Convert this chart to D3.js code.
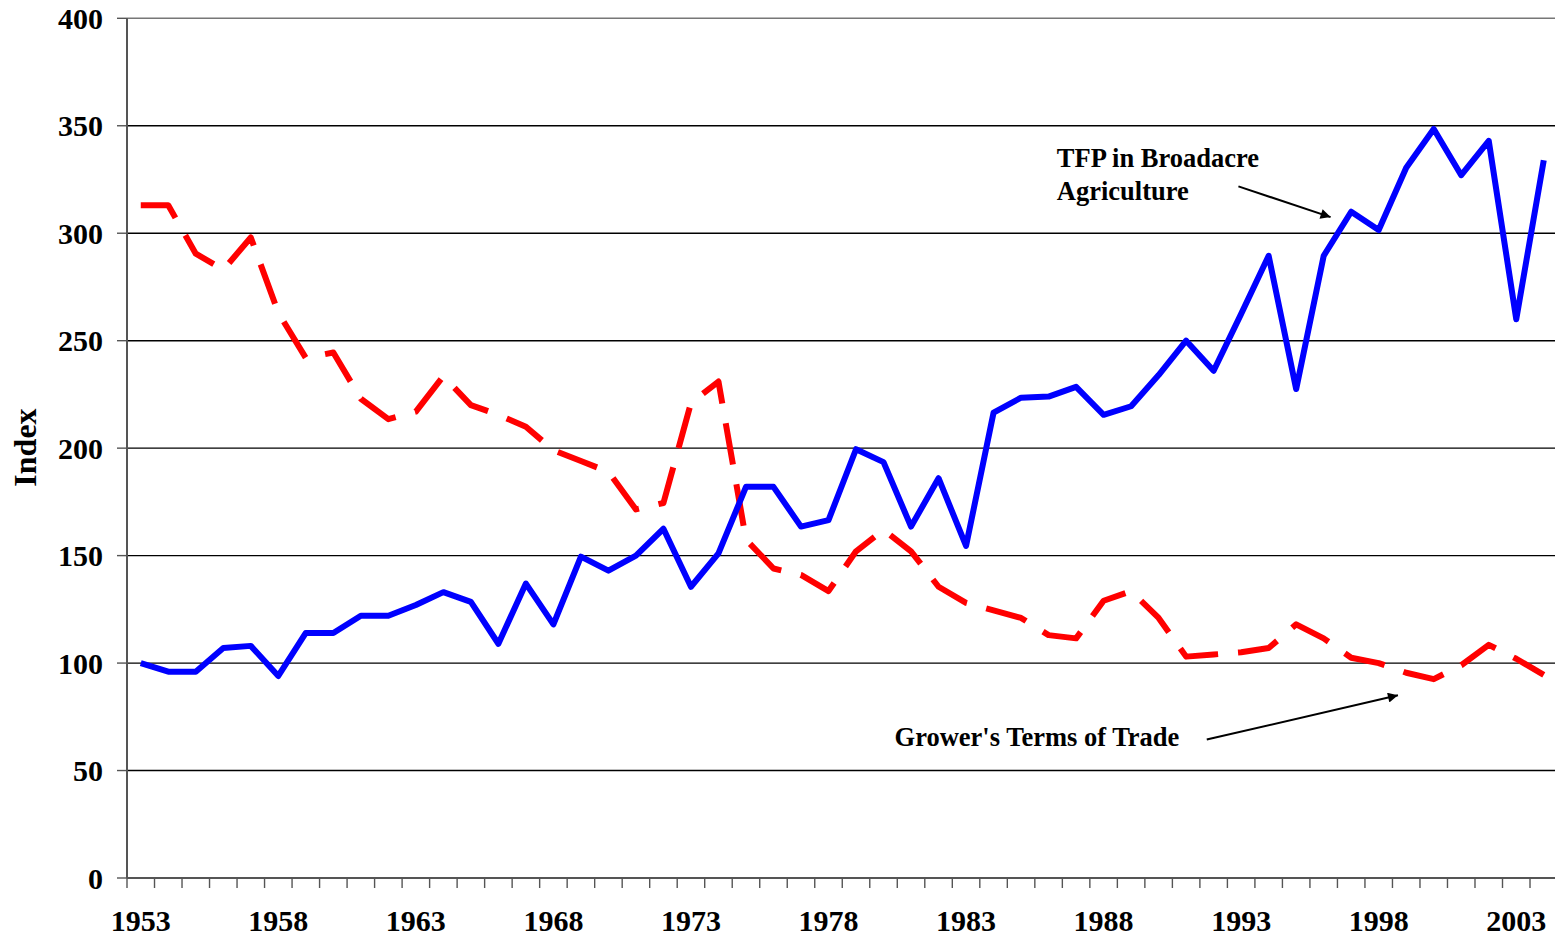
<!DOCTYPE html>
<html>
<head>
<meta charset="utf-8">
<script src="https://cdn.jsdelivr.net/npm/d3@7"></script>
<style>
  body { margin: 0; background: #fff; }
  text { font-family: "Liberation Serif", "Times New Roman", serif; font-weight: bold; fill: #000; }
</style>
</head>
<body>
<svg width="1555" height="938"></svg>
<script>
var years = d3.range(1953, 2005);

var tfp = [100, 96, 96, 107, 108, 94, 114, 114, 122, 122,
  127, 133, 128.5, 109, 137, 118, 149.5, 143, 150, 162.5,
  135.5, 151, 182, 182, 163.5, 166.5, 199.5, 193.5, 163.5, 186,
  154.5, 216.5, 223.5, 224, 228.5, 215.5, 219.5, 234, 250, 236,
  262.5, 289.5, 227.5, 289.5, 310, 301.5, 330.5, 348.5, 327, 343,
  260, 334];

var termsOfTrade = [313, 313, 290.5, 283, 298, 263, 242, 244.5, 223, 213.5,
  217, 233.5, 220, 215.5, 210, 199, 194, 189, 171.5, 174.5,
  221, 231, 157.5, 144, 141, 133.5, 152, 162, 152, 135.5,
  128, 124.5, 121, 113, 111.5, 129, 133.5, 121, 103, 104,
  105, 107, 118, 111.5, 102.5, 100, 95.5, 92.5, 99, 108.5,
  102, 94.5];

var yTicks = [0, 50, 100, 150, 200, 250, 300, 350, 400];
var yearLabels = [1953, 1958, 1963, 1968, 1973, 1978, 1983, 1988, 1993, 1998, 2003];

// annotations in data units (year, index)
var tfpNote = { lines: ["TFP in Broadacre", "Agriculture"], year: 1986.3, value: 331,
  from: [1992.9, 321.8], to: [1996.25, 307.5] };
var totNote = { lines: ["Grower's Terms of Trade"], year: 1980.4, value: 61.5,
  from: [1991.75, 64.4], to: [1998.7, 85] };

var svg = d3.select("svg"),
  plot = { left: 127, bottom: 878, top: 18.3, step: 27.51 };

var x = d3.scaleBand().domain(years)
  .range([plot.left, plot.left + plot.step * years.length]).padding(0);
var y = d3.scaleLinear().domain([0, 400]).range([plot.bottom, plot.top]);

// fractional year -> pixel
function xf(yr) {
  return plot.left + (yr - 1953 + 0.5) * plot.step;
}

svg.append("defs").append("marker")
  .attr("id", "arrow")
  .attr("viewBox", "0 0 10 10")
  .attr("refX", 10).attr("refY", 5)
  .attr("markerWidth", 7).attr("markerHeight", 5)
  .attr("markerUnits", "strokeWidth")
  .attr("orient", "auto")
  .append("path")
  .attr("d", "M0,0L10,5L0,10Z")
  .attr("fill", "#000");

// gridlines
svg.selectAll("line.grid")
  .data(yTicks.filter(d => d > 0))
  .enter()
  .append("line")
  .attr("class", "grid")
  .attr("x1", plot.left)
  .attr("x2", 1555)
  .attr("y1", d => y(d))
  .attr("y2", d => y(d))
  .attr("stroke", d => (d === 400 ? "#777" : "#000"))
  .attr("stroke-width", 1.4);

// y axis
var yAxis = svg.append("g").attr("class", "axis_y");
yAxis.append("line")
  .attr("x1", plot.left).attr("x2", plot.left)
  .attr("y1", y(400)).attr("y2", y(0))
  .attr("stroke", "#555").attr("stroke-width", 2);
yAxis.selectAll("line.tick")
  .data(yTicks)
  .enter()
  .append("line")
  .attr("class", "tick")
  .attr("x1", plot.left - 10).attr("x2", plot.left)
  .attr("y1", d => y(d)).attr("y2", d => y(d))
  .attr("stroke", "#555").attr("stroke-width", 1.4);
yAxis.selectAll("text")
  .data(yTicks)
  .enter()
  .append("text")
  .attr("x", 103)
  .attr("y", d => y(d))
  .attr("dy", "0.35em")
  .attr("text-anchor", "end")
  .style("font-size", "30px")
  .text(d => d);

// x axis
var xAxis = svg.append("g").attr("class", "axis_x");
xAxis.append("line")
  .attr("x1", plot.left).attr("x2", 1555)
  .attr("y1", plot.bottom).attr("y2", plot.bottom)
  .attr("stroke", "#555").attr("stroke-width", 2);
xAxis.selectAll("line.tick")
  .data(years)
  .enter()
  .append("line")
  .attr("class", "tick")
  .attr("x1", d => x(d)).attr("x2", d => x(d))
  .attr("y1", plot.bottom).attr("y2", plot.bottom + 10)
  .attr("stroke", "#555").attr("stroke-width", 1.4);
xAxis.selectAll("text")
  .data(yearLabels)
  .enter()
  .append("text")
  .attr("x", d => x(d) + x.bandwidth() / 2)
  .attr("y", 931)
  .attr("text-anchor", "middle")
  .style("font-size", "30px")
  .text(d => d);

svg.append("text")
  .attr("transform", "translate(36,447.5)rotate(-90)")
  .attr("text-anchor", "middle")
  .style("font-size", "32px")
  .text("Index");

var line = d3.line()
  .x((d, i) => x(years[i]) + x.bandwidth() / 2)
  .y(d => y(d));

svg.append("path")
  .datum(termsOfTrade)
  .attr("d", line)
  .attr("fill", "none")
  .attr("stroke", "#ff0000")
  .attr("stroke-width", 6)
  .attr("stroke-dasharray", "42,20")
  .attr("stroke-linejoin", "round");

svg.append("path")
  .datum(tfp)
  .attr("d", line)
  .attr("fill", "none")
  .attr("stroke", "#0000ff")
  .attr("stroke-width", 6)
  .attr("stroke-linejoin", "round");

// annotations
[tfpNote, totNote].forEach(function(n) {
  var t = svg.append("text")
    .attr("x", xf(n.year))
    .attr("y", y(n.value))
    .style("font-size", "26.5px");
  t.selectAll("tspan")
    .data(n.lines)
    .enter()
    .append("tspan")
    .attr("x", xf(n.year))
    .attr("dy", (d, i) => (i === 0 ? 0 : 33))
    .text(d => d);
  svg.append("line")
    .attr("x1", xf(n.from[0])).attr("y1", y(n.from[1]))
    .attr("x2", xf(n.to[0])).attr("y2", y(n.to[1]))
    .attr("stroke", "#000")
    .attr("stroke-width", 2)
    .attr("marker-end", "url(#arrow)");
});
</script>
</body>
</html>
